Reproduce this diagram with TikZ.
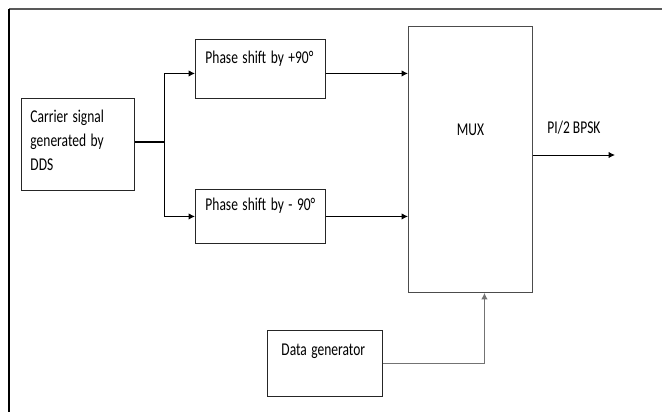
\documentclass[tikz,border=0pt]{standalone}
\usepackage{fontspec,graphicx}
\setmainfont{Carlito}
\newcommand\diagfont{\fontsize{18}{24}\selectfont}
% narrow text, as in the original drawing
\newcommand\squeeze[1]{\scalebox{0.75}[1]{\begin{tabular}[t]{@{}l@{}}#1\end{tabular}}}
\usetikzlibrary{positioning,arrows.meta}

\begin{document}
\begin{tikzpicture}[
  x=1pt, y=-1pt,
  block/.style={draw=black!85, line width=0.9pt, align=left, inner ysep=0pt, anchor=north west, font=\diagfont, text=black},
  link/.style={-{Latex[length=6.5pt,width=6.5pt]}, line width=1pt}
]
\useasboundingbox (0,0) rectangle (662,412);
% page frame
\draw[black!65, line width=2pt] (9,9.5) -- (662,9.5);
\draw[black, line width=1.3pt] (9,9.5) -- (9,412);

\node[block, inner xsep=9pt, text width=95pt, text height=24pt, text depth=68pt] (carrier) at (21,98) {\squeeze{Carrier signal\\generated by\\DDS}};
\node[block, inner xsep=10pt, text width=110pt, text height=24pt, text depth=35pt] (plus) at (195,39) {\squeeze{Phase shift by +90°}};
\node[block, inner xsep=10pt, text width=110pt, text height=21pt, text depth=33pt] (minus) at (195,189) {\squeeze{Phase shift by - 90°}};
\node[block, draw=black!70, align=center, inner xsep=10pt, text width=104pt, text height=109pt, text depth=157pt] (mux) at (408,26) {\squeeze{MUX}};
\node[block, inner xsep=14pt, text width=87pt, text height=25pt, text depth=41pt] (datagen) at (267,330) {\squeeze{Data generator}};

\coordinate (split) at (164,142);
\coordinate (bpsk) at (615,155);

\draw[line width=2.6pt] (carrier.east |- split) -- (split);
\draw[link] (split) |- ([yshift=-4.5pt]plus.west);
\draw[link] (split) |- (minus.west);
\draw[link] ([yshift=-4.5pt]plus.east) -- ([yshift=-4.5pt]plus.east -| mux.west);
\draw[link] (minus.east) -- (minus.east -| mux.west);
\draw[link] (mux.east |- bpsk) -- (bpsk)
  node[midway, above=21pt, inner sep=0pt, text depth=0pt, font=\diagfont, text=black] (bpsklabel) {\squeeze{PI/2 BPSK}};
\draw[link, draw=black!55] (datagen.east) -| ([xshift=14pt]mux.south);
\end{tikzpicture}
\end{document}
